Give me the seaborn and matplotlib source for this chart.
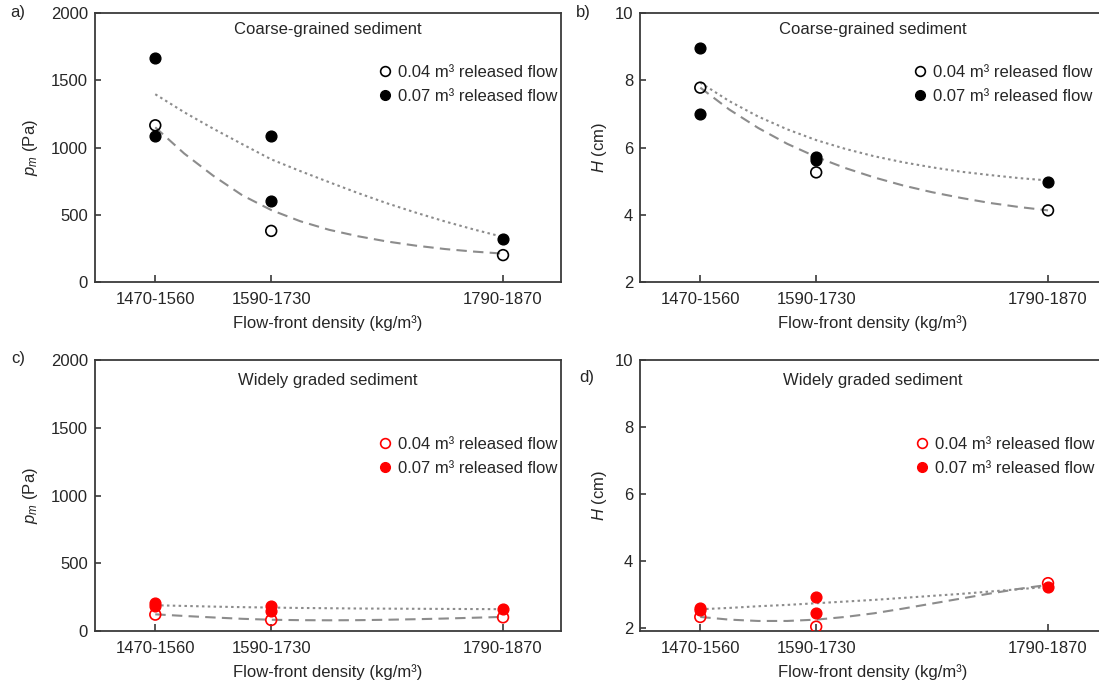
import matplotlib
matplotlib.use("Agg")
import matplotlib.pyplot as plt
import seaborn as sns
from matplotlib.lines import Line2D

sns.set_theme(style="white")
plt.rcParams['font.family'] = ['Liberation Sans', 'DejaVu Sans']
plt.rcParams['mathtext.fontset'] = 'custom'
plt.rcParams['mathtext.rm'] = 'Liberation Sans'
plt.rcParams['mathtext.it'] = 'Liberation Sans:italic'
plt.rcParams['mathtext.bf'] = 'Liberation Sans:bold'

# ---------------- data ----------------
density_labels = ["1470-1560", "1590-1730", "1790-1870"]
density_pos = [1, 2, 4]

# panel a: coarse-grained, p_m (Pa)
a_open_x = [1, 2, 4]
a_open_y = [1165, 380, 200]
a_fill_x = [1, 1, 2, 2, 4]
a_fill_y = [1665, 1082, 1082, 601, 320]

# panel b: coarse-grained, H (cm)
b_open_x = [1, 2, 4]
b_open_y = [7.78, 5.26, 4.13]
b_fill_x = [1, 1, 2, 2, 4]
b_fill_y = [8.95, 6.99, 5.73, 5.62, 4.97]

# panel c: widely graded, p_m (Pa)
c_open_x = [1, 2, 4]
c_open_y = [121, 81, 101]
c_fill_x = [1, 1, 2, 2, 4]
c_fill_y = [207, 182, 184, 147, 163]

# panel d: widely graded, H (cm)
d_open_x = [1, 2, 4]
d_open_y = [2.32, 2.03, 3.33]
d_fill_x = [1, 1, 2, 2, 4]
d_fill_y = [2.59, 2.53, 2.92, 2.45, 3.22]

# trend curves (x positions 1 .. 4, step 0.25)
curve_x = [1, 1.25, 1.5, 1.75, 2, 2.25, 2.5, 2.75, 3, 3.25, 3.5, 3.75, 4]
a_dot = [1396, 1262, 1140, 1025, 912, 825, 742, 661, 585, 515, 450, 390, 335]
a_dash = [1150, 955, 790, 645, 535, 452, 388, 340, 301, 270, 245, 226, 211]
b_dot = [7.93, 7.38, 6.92, 6.54, 6.22, 5.96, 5.74, 5.56, 5.41, 5.28, 5.18, 5.09, 5.02]
b_dash = [7.78, 7.13, 6.58, 6.11, 5.72, 5.39, 5.11, 4.87, 4.67, 4.50, 4.35, 4.23, 4.13]
c_dot = [190, 185, 180, 176, 173, 170, 168, 166, 165, 164, 163, 162, 161]
c_dash = [123, 111, 100, 90, 83, 80, 79, 80, 83, 87, 92, 98, 104]
d_dot = [2.55, 2.59, 2.64, 2.68, 2.73, 2.78, 2.83, 2.89, 2.95, 3.01, 3.08, 3.15, 3.22]
d_dash = [2.32, 2.24, 2.20, 2.20, 2.24, 2.32, 2.43, 2.57, 2.72, 2.87, 3.02, 3.16, 3.28]

legend_labels = ['0.04 m³ released flow', '0.07 m³ released flow']
x_label = 'Flow-front density (kg/m³)'

# ---------------- figure ----------------
W, H = 1099, 693
fig = plt.figure(figsize=(W / 100, H / 100), dpi=100)

def fbox(l, t, r, b):
    return [l / W, (H - b) / H, (r - l) / W, (b - t) / H]

axes = {
    'a': fig.add_axes(fbox(95, 13, 561, 282)),
    'b': fig.add_axes(fbox(640, 13, 1106, 282)),
    'c': fig.add_axes(fbox(95, 360, 561, 631)),
    'd': fig.add_axes(fbox(640, 360, 1106, 631)),
}

spine_col = '#3a3a3a'
gray = '#8c8c8c'
FS = 12

panels = [
    ('a', a_open_x, a_open_y, a_fill_x, a_fill_y, a_dot, a_dash, 'black',
     'Coarse-grained sediment', r'$p_m$ (Pa)', (0, 2000), [0, 500, 1000, 1500, 2000],
     -15, 0.59, 0.831, 8),
    ('b', b_open_x, b_open_y, b_fill_x, b_fill_y, b_dot, b_dash, 'black',
     'Coarse-grained sediment', r'$H$ (cm)', (2, 10), [2, 4, 6, 8, 10],
     -15, 0.568, 0.831, 4),
    ('c', c_open_x, c_open_y, c_fill_x, c_fill_y, c_dot, c_dash, 'red',
     'Widely graded sediment', r'$p_m$ (Pa)', (0, 2000), [0, 500, 1000, 1500, 2000],
     -18, 0.59, 0.74, 8),
    ('d', d_open_x, d_open_y, d_fill_x, d_fill_y, d_dot, d_dash, 'red',
     'Widely graded sediment', r'$H$ (cm)', (1.9, 10), [2, 4, 6, 8, 10],
     -18, 0.572, 0.74, 4),
]

for (key, ox, oy, fx, fy, dot, dash, col, title, ylab, ylim, yticks,
     tpad, lgx, lgy, ylp) in panels:
    ax = axes[key]
    sns.lineplot(x=curve_x, y=dot, ax=ax, color=gray, linewidth=1.5, zorder=2)
    ax.lines[-1].set_dashes([1.2, 1.6])
    sns.lineplot(x=curve_x, y=dash, ax=ax, color=gray, linewidth=1.5, zorder=2)
    ax.lines[-1].set_dashes([5, 3])
    sns.scatterplot(x=ox, y=oy, ax=ax, marker='o', s=60, facecolor='none',
                    edgecolor=col, linewidth=1.2, zorder=3)
    sns.scatterplot(x=fx, y=fy, ax=ax, marker='o', s=60, color=col,
                    edgecolor=col, linewidth=1.0, zorder=3)
    ax.set_xlim(0.48, 4.5)
    ax.set_ylim(*ylim)
    ax.set_xticks(density_pos)
    ax.set_xticklabels(density_labels)
    ax.set_yticks(yticks)
    ax.tick_params(axis='x', direction='in', length=5, width=1.2, color=spine_col,
                   labelsize=FS, pad=7, bottom=True)
    ax.tick_params(axis='y', direction='in', length=4, width=1.2, color=spine_col,
                   labelsize=FS, pad=5, left=True)
    for s in ax.spines.values():
        s.set_visible(True)
        s.set_color(spine_col)
        s.set_linewidth(1.3)
    ax.set_xlabel(x_label, fontsize=FS, labelpad=6)
    ax.set_ylabel(ylab, fontsize=FS, labelpad=ylp)
    ax.set_title(title, fontsize=FS, pad=tpad, y=1.0)
    handles = [
        Line2D([], [], marker='o', linestyle='none', markersize=7,
               markerfacecolor='none', markeredgecolor=col, markeredgewidth=1.2),
        Line2D([], [], marker='o', linestyle='none', markersize=7,
               markerfacecolor=col, markeredgecolor=col),
    ]
    ax.legend(handles, legend_labels,
              loc='upper left', bbox_to_anchor=(lgx, lgy), frameon=False,
              fontsize=FS, handletextpad=0.3, labelspacing=0.55, borderaxespad=0,
              handlelength=1.0)
    ax.grid(False)

fig.text(18 / W, 1 - 13 / H, 'a)', fontsize=FS, ha='center', va='center')
fig.text(583 / W, 1 - 13 / H, 'b)', fontsize=FS, ha='center', va='center')
fig.text(18 / W, 1 - 358 / H, 'c)', fontsize=FS, ha='center', va='center')
fig.text(587 / W, 1 - 377 / H, 'd)', fontsize=FS, ha='center', va='center')

fig.savefig('out.png', dpi=100)
